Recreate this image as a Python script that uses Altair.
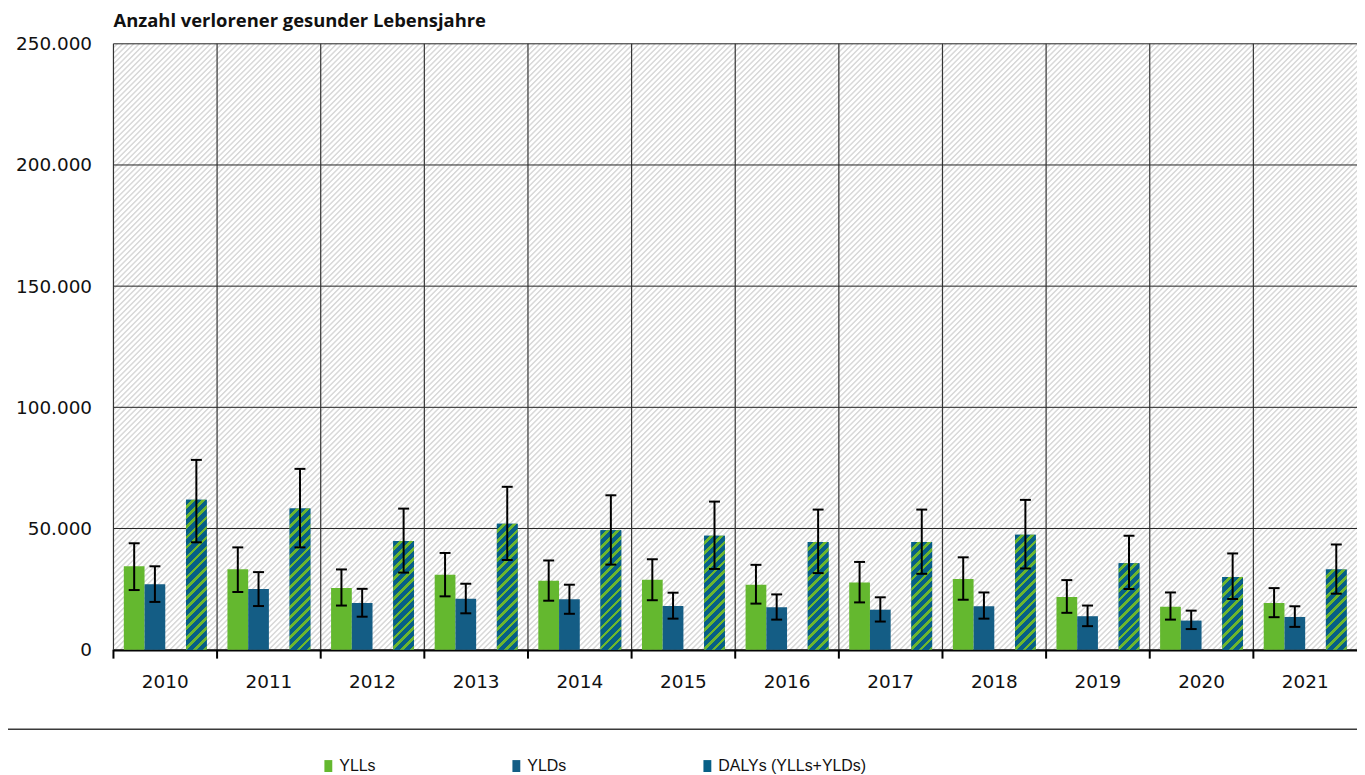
import math
import altair as alt
import pandas as pd

# ---------------- data ----------------
years = ["2010", "2011", "2012", "2013", "2014", "2015",
         "2016", "2017", "2018", "2019", "2020", "2021"]
series = ["YLLs", "YLDs", "DALYs (YLLs+YLDs)"]

yll = [34400, 33200, 25400, 30900, 28400, 28800, 26800, 27700, 29200, 21700, 17700, 19300]
yll_hi = [43900, 42200, 33100, 39900, 36800, 37300, 35000, 36200, 38100, 28700, 23600, 25400]
yll_lo = [24600, 23800, 18200, 22000, 20200, 20400, 19000, 19500, 20600, 15200, 12400, 13400]

yld = [27000, 25000, 19300, 21000, 20800, 18000, 17500, 16500, 17900, 13800, 12000, 13500]
yld_hi = [34400, 32000, 25100, 27200, 26800, 23500, 22800, 21600, 23600, 18200, 16100, 17900]
yld_lo = [19700, 18000, 13600, 15000, 14800, 12800, 12400, 11600, 12800, 9700, 8500, 9400]

daly = [61900, 58200, 44800, 52000, 49300, 47000, 44400, 44400, 47400, 35700, 30000, 33100]
daly_hi = [78300, 74600, 58200, 67200, 63700, 61100, 57800, 57800, 61800, 47000, 39700, 43400]
daly_lo = [44300, 42200, 31800, 37000, 35100, 33300, 31600, 31300, 33500, 25000, 20900, 23100]

y_ticks = [0, 50000, 100000, 150000, 200000, 250000]
title_text = "Anzahl verlorener gesunder Lebensjahre"

# ---------------- table ----------------
rows = []
for i, yr in enumerate(years):
    for s, v, hi, lo in ((series[0], yll, yll_hi, yll_lo),
                         (series[1], yld, yld_hi, yld_lo),
                         (series[2], daly, daly_hi, daly_lo)):
        rows.append({"year": yr, "series": s, "value": v[i], "hi": hi[i], "lo": lo[i]})
df = pd.DataFrame(rows)
df_years = pd.DataFrame({"year": years})
df_ticks = pd.DataFrame({"tick": y_ticks})

# ---------------- style ----------------
W, H = 1250, 609
YMAX = 250000
C_YLL = "#64b82f"
C_YLD = "#145d85"
C_DALY_BLUE = "#075f86"
C_DALY_GREEN = "#6cb62e"
AXIS_FONT = "DejaVu Sans"
TXT = "#111111"


def diag_gradient(w, h, period, stops_pattern):
    """Diagonal '/' stripes (45 deg in pixels) for a box of w x h pixels."""
    r = h / w
    a = (1 + r) / (1 + r * r)
    b = r * a
    length = (w + h) / math.sqrt(2)
    n = max(1, int(round(length / period)))
    stops = []
    for k in range(n):
        for frac, col in stops_pattern:
            stops.append({"offset": round(min(1.0, (k + frac) / n), 6), "color": col})
    return {"gradient": "linear", "x1": 0, "y1": 0, "x2": a, "y2": b, "stops": stops}


bg_grad = diag_gradient(W, H, 3.9, [(0.0, "#ffffff"), (0.4, "#ffffff"), (0.6, "#d9d9d9"),
                                    (0.78, "#d9d9d9"), (1.0, "#ffffff")])

offset_domain = ["YLLs", "YLDs", "_gap", "DALYs (YLLs+YLDs)"]
band_w = W / len(years)
sub_w = band_w / 5.0

x_axis = alt.Axis(title=None, ticks=False, grid=False, domain=True, domainColor="#000000",
                  domainWidth=2.5, labelAngle=0, labelFont=AXIS_FONT, labelFontSize=18.5,
                  labelColor=TXT, labelPadding=23)
x_scale = alt.Scale(domain=years, paddingInner=0, paddingOuter=0)


def X(**kw):
    return alt.X("year:N", scale=x_scale, axis=x_axis, **kw)


XOFF = alt.XOffset("series:N", scale=alt.Scale(domain=offset_domain, paddingInner=0, paddingOuter=0.5))

y_axis = alt.Axis(title=None, values=y_ticks, ticks=False, domain=False, grid=False,
                  labelFont=AXIS_FONT, labelFontSize=18.5,
                  labelColor=TXT, labelPadding=22,
                  labelExpr="replace(format(datum.value, ',d'), ',', '.')")
y_scale = alt.Scale(domain=[0, YMAX], nice=False, zero=True)


def Y(field):
    return alt.Y(field, scale=y_scale, axis=y_axis)


# hatched plot background
background = alt.Chart(df_years.head(1)).mark_rect(fill=bg_grad, strokeWidth=0).encode(
    x=alt.value(0), x2=alt.value(W), y=alt.value(0), y2=alt.value(H))

# horizontal grid lines
hgrid = alt.Chart(df_ticks).mark_rule(color="#222222", strokeWidth=1).encode(
    y=Y("tick:Q"))

# vertical grid lines at band boundaries + ticks below the axis
vgrid = alt.Chart(df_years).mark_rule(color="#333333", strokeWidth=1.2).encode(
    x=X(bandPosition=0), y=alt.value(0), y2=alt.value(H))
vticks = alt.Chart(df_years).mark_rule(color="#000000", strokeWidth=2).encode(
    x=X(bandPosition=0), y=alt.value(H), y2=alt.value(H + 9))

bars = alt.Chart(df).mark_bar().encode(
    x=X(), xOffset=XOFF, y=Y("value:Q"),
    color=alt.Color("series:N",
                    scale=alt.Scale(domain=series, range=[C_YLL, C_YLD, C_DALY_BLUE]),
                    legend=alt.Legend(title=None, orient="none", legendX=208, legendY=H + 109,
                                      direction="horizontal", columns=3, gridAlign="each",
                                      columnPadding=133,
                                      symbolType="M-0.66,-1H0.66V1H-0.66Z",
                                      symbolSize=144, symbolStrokeWidth=0, symbolOpacity=1,
                                      labelFont="Liberation Sans", labelFontSize=16,
                                      labelColor=TXT, labelOffset=3)),
)

# striped DALY bars: one layer per year so each bar gets its own gradient
stripe_layers = []
for i, yr in enumerate(years):
    h = daly[i] / YMAX * H
    grad = diag_gradient(sub_w, h, 7.0, [(0.0, C_DALY_BLUE), (0.62, C_DALY_BLUE),
                                         (0.62, C_DALY_GREEN), (1.0, C_DALY_GREEN)])
    sub = df[(df["year"] == yr) & (df["series"] == series[2])]
    stripe_layers.append(
        alt.Chart(sub).mark_bar(fill=grad).encode(x=X(), xOffset=XOFF, y=Y("value:Q"))
    )

err = alt.Chart(df).mark_rule(color="#000000", strokeWidth=2).encode(
    x=X(), xOffset=XOFF, y=Y("lo:Q"), y2="hi:Q")
cap_hi = alt.Chart(df).mark_tick(color="#000000", thickness=2, size=11, opacity=1).encode(
    x=X(), xOffset=XOFF, y=Y("hi:Q"))
cap_lo = alt.Chart(df).mark_tick(color="#000000", thickness=2, size=11, opacity=1).encode(
    x=X(), xOffset=XOFF, y=Y("lo:Q"))

divider = alt.Chart(df_years.head(1)).mark_rule(color="#3a3a3a", strokeWidth=1.5).encode(
    x=alt.value(-106), x2=alt.value(W), y=alt.value(H + 80))

chart = alt.layer(background, hgrid, vgrid, vticks, bars, *stripe_layers, err, cap_hi, cap_lo,
                  divider).properties(
    width=W, height=H,
    title=alt.Title(title_text, anchor="start", frame="group", font="Open Sans",
                    fontSize=18.5, fontWeight="bold", color=TXT, offset=4),
    autosize=alt.AutoSizeParams(type="none"),
    padding={"left": 106, "top": 34, "right": 0, "bottom": 124},
).configure_view(stroke=None)

chart.save("out.html", embed_options={"renderer": "svg", "actions": False})
